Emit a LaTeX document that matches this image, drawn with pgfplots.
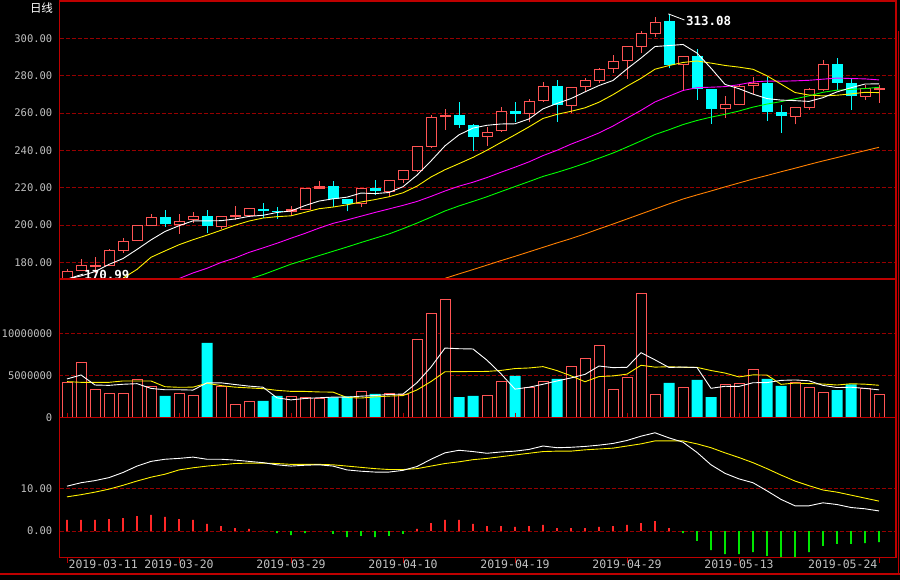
\documentclass[border=0pt]{standalone}
\usepackage{pgfplots}
\usepackage{pgfplotstable}
\usepackage{fontspec}
\pgfplotsset{compat=1.18}
\newfontfamily\monof{DejaVu Sans Mono}
\newfontfamily\cjk{Noto Sans CJK SC}

\definecolor{upred}{RGB}{255,84,84}
\definecolor{dncyan}{RGB}{0,255,255}
\definecolor{framered}{RGB}{190,0,0}
\definecolor{gridred}{RGB}{150,0,0}
\definecolor{lblgray}{RGB}{192,192,192}
\definecolor{maorange}{RGB}{255,128,0}
\definecolor{mamagenta}{RGB}{255,0,255}
\definecolor{magreen}{RGB}{0,255,0}
\definecolor{macdred}{RGB}{255,40,40}
\definecolor{macdgreen}{RGB}{0,230,0}

% daily candles: open high low close
\pgfplotstableread{
i open high low close
0 171.2 176.2 170.99 175.5
1 175.5 181.9 175.3 178.4
2 177.6 182.7 174.1 178.5
3 178.2 187.1 178.0 186.6
4 186.2 193.0 185.2 191.4
5 191.3 200.0 191.3 199.8
6 199.6 205.9 199.6 204.1
7 204.3 208.0 199.1 200.5
8 200.1 205.9 195.3 202.0
9 202.8 207.0 201.2 204.6
10 204.8 208.0 195.7 199.6
11 199.1 204.8 198.0 204.6
12 204.4 210.2 202.7 205.3
13 205.0 209.2 204.6 208.9
14 208.8 212.0 203.8 207.7
15 207.5 209.8 203.4 206.8
16 207.0 210.2 204.8 208.6
17 208.0 220.0 207.8 219.8
18 219.4 223.5 219.2 220.9
19 220.9 223.5 209.5 213.9
20 213.9 214.0 207.3 211.4
21 211.1 219.8 209.5 219.6
22 219.8 224.1 215.9 218.4
23 217.8 224.0 215.1 223.9
24 223.9 229.5 222.3 229.3
25 229.1 242.3 228.5 242.1
26 242.0 258.9 241.2 257.7
27 257.7 262.1 250.9 258.9
28 258.8 265.9 252.1 253.7
29 253.4 254.1 239.6 247.3
30 247.0 252.5 242.5 249.6
31 250.2 263.2 250.0 260.9
32 261.1 265.9 255.3 259.6
33 259.3 267.3 255.0 266.4
34 266.3 276.6 266.0 274.3
35 274.3 277.7 255.3 264.4
36 263.9 274.0 259.8 273.8
37 273.8 278.7 271.2 277.5
38 277.3 284.1 276.2 283.4
39 283.4 291.0 281.6 287.7
40 287.7 296.0 278.4 295.7
41 295.5 303.9 292.3 302.7
42 302.5 311.6 300.7 308.6
43 309.3 313.08 283.9 285.9
44 285.5 290.6 272.0 290.4
45 290.5 294.3 267.1 273.0
46 272.8 273.0 254.3 262.3
47 262.0 269.1 257.5 264.8
48 264.4 275.1 264.0 274.4
49 274.3 279.1 270.2 276.2
50 276.1 279.4 255.9 260.7
51 260.5 264.1 249.4 258.5
52 258.0 263.2 253.9 263.0
53 262.8 273.5 261.8 272.7
54 272.3 288.2 272.0 286.1
55 286.2 289.4 272.3 276.2
56 276.1 278.6 261.8 269.3
57 268.7 275.0 267.0 273.4
58 272.4 275.0 265.5 273.3
}\ohlc

\newcommand\candleup[5]{%
  \addplot[upred, line width=1pt] coordinates {(#1,#4) (#1,#3)};
  \addplot[upred, line width=11pt] coordinates {(#1,#2) (#1,#5)};
  \addplot[black, line width=9pt, shorten <=1pt, shorten >=1pt] coordinates {(#1,#2) (#1,#5)};
}
\newcommand\candleflat[5]{%
  \addplot[upred, line width=1pt] coordinates {(#1,#4) (#1,#3)};
  \addplot[upred, line width=11pt] coordinates {(#1,#2) (#1,#5)};
}
\newcommand\candledn[5]{%
  \addplot[dncyan, line width=1pt] coordinates {(#1,#4) (#1,#3)};
  \addplot[dncyan, line width=11pt] coordinates {(#1,#2) (#1,#5)};
}
\newcommand\candle[5]{%
  \ifdim #5pt<#2pt \def\candlenext{\candledn}\else
    \pgfmathsetmacro\cdiff{#5-#2}%
    \ifdim\cdiff pt>1.6pt \def\candlenext{\candleup}\else\def\candlenext{\candleflat}\fi
  \fi
  \candlenext{#1}{#2}{#3}{#4}{#5}}

\pgfplotsset{
  panel/.style={
    anchor=south west, scale only axis, width=836.5pt,
    xmin=-0.536, xmax=59.214,
    axis line style={draw=framered, line width=1.2pt},
    ymajorgrids,
    grid style={draw=gridred, line width=0.8pt, dash pattern=on 4pt off 2pt},
    ytick style={draw=none},
    yticklabel style={font=\monof\fontsize{10.5}{12}\selectfont, text=lblgray,
      anchor=east, inner sep=0pt, xshift=-7pt},
  },
}

\begin{document}
\begin{tikzpicture}
\path[use as bounding box, fill=black] (0,0) rectangle (900pt,580pt);

% price panel
\begin{axis}[panel, at={(59.5pt,301pt)}, height=278pt,
  ymin=171.06, ymax=319.98, xtick=\empty,
  ytick={180,200,...,300},
  yticklabels={180.00,200.00,220.00,240.00,260.00,280.00,300.00}]
\pgfplotsforeachungrouped \r in {0,...,58}{%
  \pgfplotstablegetelem{\r}{open}\of\ohlc\let\cO\pgfplotsretval
  \pgfplotstablegetelem{\r}{high}\of\ohlc\let\cH\pgfplotsretval
  \pgfplotstablegetelem{\r}{low}\of\ohlc\let\cL\pgfplotsretval
  \pgfplotstablegetelem{\r}{close}\of\ohlc\let\cC\pgfplotsretval
  \edef\docandle{\noexpand\candle{\r}{\cO}{\cH}{\cL}{\cC}}%
  \docandle
}
% MA60
\addplot[maorange, line width=0.9pt] coordinates {
(27,171.4)(28,173.8)(29,176.1)(30,178.5)(31,180.9)(32,183.2)(33,185.6)(34,188.0)
(35,190.4)(36,192.7)(37,195.2)(38,197.9)(39,200.5)(40,203.2)(41,205.9)(42,208.6)
(43,211.3)(44,213.9)(45,216.1)(46,218.2)(47,220.4)(48,222.5)(49,224.6)(50,226.5)
(51,228.5)(52,230.4)(53,232.4)(54,234.3)(55,236.1)(56,238.0)(57,239.8)(58,241.6)};
% MA30
\addplot[magreen, line width=0.9pt] coordinates {
(13,171.0)(14,173.4)(15,176.2)(16,179.0)(17,181.3)(18,183.6)(19,185.9)(20,188.2)
(21,190.6)(22,192.9)(23,195.2)(24,198.0)(25,201.0)(26,204.2)(27,207.5)(28,210.2)
(29,212.63)(30,215.13)(31,217.88)(32,220.58)(33,223.25)(34,226.0)(35,228.17)
(36,230.5)(37,233.05)(38,235.77)(39,238.53)(40,241.73)(41,245.02)(42,248.45)
(43,251.02)(44,253.78)(45,255.97)(46,257.77)(47,259.27)(48,261.05)(49,263.13)
(50,264.77)(51,266.07)(52,267.57)(53,269.18)(54,271.08)(55,272.2)(56,272.6)
(57,273.08)(58,273.73)};
% MA20
\addplot[mamagenta, line width=0.9pt] coordinates {
(8,171.3)(9,174.3)(10,176.8)(11,179.9)(12,182.3)(13,185.3)(14,187.7)(15,190.2)
(16,192.9)(17,195.5)(18,198.3)(19,200.85)(20,202.7)(21,204.7)(22,206.7)(23,208.6)
(24,210.5)(25,212.6)(26,215.3)(27,218.2)(28,220.8)(29,222.9)(30,225.4)(31,228.25)
(32,230.95)(33,233.8)(34,237.15)(35,240.0)(36,243.3)(37,246.2)(38,249.3)(39,253.0)
(40,257.2)(41,261.4)(42,265.9)(43,269.0)(44,272.05)(45,273.55)(46,273.8)(47,274.1)
(48,275.15)(49,276.6)(50,277.1)(51,277.0)(52,277.2)(53,277.5)(54,278.1)(55,278.7)
(56,278.45)(57,278.25)(58,277.7)};
% MA10
\addplot[yellow, line width=0.9pt] coordinates {
(4,171.5)(5,176.2)(6,182.7)(7,186.1)(8,189.4)(9,192.1)(10,194.55)(11,197.15)
(12,199.85)(13,202.1)(14,203.7)(15,204.45)(16,204.9)(17,206.8)(18,208.7)(19,209.6)
(20,210.8)(21,212.3)(22,213.6)(23,215.1)(24,217.25)(25,220.8)(26,225.7)(27,229.6)
(28,232.85)(29,236.2)(30,240.05)(31,244.2)(32,248.3)(33,252.55)(34,257.05)
(35,259.25)(36,260.9)(37,262.75)(38,265.75)(39,269.8)(40,274.35)(41,278.55)
(42,283.45)(43,285.4)(44,287.05)(45,287.85)(46,286.7)(47,285.45)(48,284.55)
(49,283.4)(50,279.9)(51,275.45)(52,270.95)(53,269.6)(54,269.15)(55,269.5)
(56,270.2)(57,271.05)(58,270.9)};
% MA5
\addplot[white, line width=0.9pt] coordinates {
(0,171.0)(1,172.7)(2,175.0)(3,178.9)(4,182.0)(5,186.9)(6,192.0)(7,196.5)(8,199.6)
(9,202.2)(10,202.2)(11,202.3)(12,203.2)(13,204.6)(14,205.2)(15,206.7)(16,207.5)
(17,210.4)(18,212.8)(19,214.0)(20,214.9)(21,217.1)(22,216.8)(23,217.4)(24,220.5)
(25,226.7)(26,234.3)(27,242.4)(28,248.3)(29,251.9)(30,253.4)(31,254.1)(32,254.2)
(33,256.8)(34,262.2)(35,265.1)(36,267.7)(37,271.3)(38,274.7)(39,277.4)(40,283.6)
(41,289.4)(42,295.6)(43,296.1)(44,296.7)(45,292.1)(46,284.0)(47,275.3)(48,273.0)
(49,270.1)(50,267.7)(51,266.9)(52,266.6)(53,266.2)(54,268.2)(55,271.3)(56,273.5)
(57,275.5)(58,275.6)};
% high / low marks
\draw[white, line width=0.8pt] (axis cs:0,170.99) -- (axis cs:1.15,173.7);
\node[anchor=west, inner sep=0pt, text=white, font=\monof\bfseries\fontsize{12.5}{14}\selectfont]
  at (axis cs:1.22,173.3) {170.99};
\draw[white, line width=0.8pt] (axis cs:42.95,313.08) -- (axis cs:44.1,309.8);
\node[anchor=west, inner sep=0pt, text=white, font=\monof\bfseries\fontsize{12.5}{14}\selectfont]
  at (axis cs:44.2,309.4) {313.08};
\end{axis}

% volume panel (millions)
\begin{axis}[panel, at={(59.5pt,162.3pt)}, height=138.7pt,
  ymin=0, ymax=16.43, xtick=\empty,
  ytick={0,5,10}, yticklabels={0,5000000,10000000}]
\addplot[ybar, bar width=10pt, bar shift=0pt, draw=upred, fill=black, line width=1pt] coordinates {
(0,4.19)(1,6.56)(2,3.36)(3,2.85)(4,2.85)(5,4.55)(6,3.72)(8,2.85)(9,2.65)(11,3.72)
(12,1.59)(13,1.90)(16,2.53)(17,2.41)(18,2.29)(21,3.13)(23,2.85)(24,2.69)(25,9.29)
(26,12.37)(27,14.03)(30,2.65)(31,4.31)(33,3.60)(34,4.31)(36,6.09)(37,7.04)(38,8.58)
(39,3.36)(40,4.79)(41,14.74)(42,2.77)(44,3.60)(47,3.96)(48,4.08)(49,5.73)(52,4.19)
(53,3.60)(54,3.01)(57,3.48)(58,2.77)};
\addplot[ybar, bar width=11pt, bar shift=0pt, draw=none, fill=dncyan] coordinates {
(7,2.57)(10,8.85)(14,1.98)(15,2.57)(19,2.41)(20,2.53)(22,2.81)(28,2.45)(29,2.57)
(32,4.94)(35,4.59)(43,4.11)(45,4.47)(46,2.45)(50,4.59)(51,3.76)(55,3.28)(56,3.96)};
\addplot[yellow, line width=0.9pt] coordinates {
(0,4.27)(1,4.19)(2,4.19)(3,4.19)(4,4.35)(5,4.35)(6,4.35)(7,3.67)(8,3.60)(9,3.62)
(10,4.08)(11,3.80)(12,3.62)(13,3.53)(14,3.44)(15,3.24)(16,3.12)(17,3.11)(18,3.05)
(19,3.03)(20,2.39)(21,2.33)(22,2.46)(23,2.56)(24,2.62)(25,3.29)(26,4.28)(27,5.44)
(28,5.46)(29,5.47)(30,5.48)(31,5.60)(32,5.82)(33,5.89)(34,6.05)(35,5.58)(36,4.96)
(37,4.26)(38,4.87)(39,4.95)(40,5.16)(41,6.21)(42,5.99)(43,6.04)(44,5.97)(45,5.96)
(46,5.59)(47,5.29)(48,4.83)(49,5.07)(50,5.05)(51,3.95)(52,4.10)(53,4.04)(54,3.99)
(55,3.87)(56,4.02)(57,3.97)(58,3.84)};
\addplot[white, line width=0.9pt] coordinates {
(0,4.59)(1,5.06)(2,3.87)(3,3.83)(4,3.96)(5,4.03)(6,3.47)(7,3.31)(8,3.31)(9,3.27)
(10,4.13)(11,4.13)(12,3.93)(13,3.74)(14,3.61)(15,2.35)(16,2.11)(17,2.28)(18,2.36)
(19,2.44)(20,2.43)(21,2.55)(22,2.63)(23,2.75)(24,2.80)(25,4.15)(26,6.00)(27,8.25)
(28,8.17)(29,8.14)(30,6.81)(31,5.20)(32,3.38)(33,3.61)(34,3.96)(35,4.35)(36,4.71)
(37,5.13)(38,6.12)(39,5.93)(40,5.97)(41,7.70)(42,6.85)(43,5.95)(44,6.00)(45,5.94)
(46,3.48)(47,3.72)(48,3.71)(49,4.14)(50,4.16)(51,4.42)(52,4.47)(53,4.37)(54,3.83)
(55,3.57)(56,3.61)(57,3.47)(58,3.30)};
\end{axis}

% MACD panel
\begin{axis}[panel, at={(59.5pt,22.3pt)}, height=140pt,
  ymin=-6.25, ymax=26.53,
  ytick={0,10}, yticklabels={0.00,10.00},
  xtick={0,8,16,24,32,40,48,58},
  xticklabels={\rlap{\hspace{1.6pt}2019-03-11},2019-03-20,2019-03-29,2019-04-10,
    2019-04-19,2019-04-29,2019-05-13,\llap{2019-05-24\hspace{1.6pt}}},
  xtick align=outside, major tick length=5pt,
  xtick style={draw=framered, line width=1pt},
  xticklabel style={font=\monof\fontsize{11.5}{13}\selectfont, text=lblgray,
    anchor=north, inner sep=0pt, yshift=3.4pt}]
\addplot[ybar, bar width=1.6pt, bar shift=0pt, draw=none, fill=macdred] coordinates {
(0,2.58)(1,2.58)(2,2.58)(3,2.81)(4,3.04)(5,3.51)(6,3.75)(7,3.28)(8,2.81)(9,2.58)
(10,1.64)(11,1.17)(12,0.70)(13,0.47)(14,0.08)(25,0.47)(26,1.87)(27,2.58)(28,2.58)
(29,1.64)(30,1.17)(31,1.17)(32,0.94)(33,1.17)(34,1.41)(35,0.70)(36,0.70)(37,0.70)
(38,0.94)(39,1.17)(40,1.41)(41,1.87)(42,2.34)(43,0.70)};
\addplot[ybar, bar width=1.6pt, bar shift=0pt, draw=none, fill=macdgreen] coordinates {
(15,-0.47)(16,-0.94)(17,-0.47)(19,-0.70)(20,-1.41)(21,-1.17)(22,-1.41)(23,-1.17)
(24,-0.70)(44,-0.47)(45,-2.34)(46,-4.45)(47,-5.39)(48,-5.39)(49,-4.92)(50,-5.85)
(51,-6.09)(52,-6.09)(53,-4.92)(54,-3.51)(55,-3.04)(56,-3.04)(57,-2.81)(58,-2.58)};
\addplot[yellow, line width=0.9pt] coordinates {
(0,8.0)(1,8.5)(2,9.1)(3,9.8)(4,10.7)(5,11.7)(6,12.6)(7,13.3)(8,14.3)(9,14.8)
(10,15.2)(11,15.5)(12,15.8)(13,15.9)(14,15.9)(15,15.8)(16,15.6)(17,15.6)(18,15.6)
(19,15.5)(20,15.2)(21,14.9)(22,14.6)(23,14.4)(24,14.4)(25,14.6)(26,15.2)(27,15.8)
(28,16.2)(29,16.7)(30,17.0)(31,17.4)(32,17.8)(33,18.2)(34,18.6)(35,18.7)(36,18.7)
(37,19.0)(38,19.2)(39,19.4)(40,19.9)(41,20.4)(42,21.1)(43,21.1)(44,21.1)(45,20.4)
(46,19.5)(47,18.3)(48,17.2)(49,16.0)(50,14.6)(51,13.1)(52,11.7)(53,10.6)(54,9.6)
(55,9.1)(56,8.4)(57,7.7)(58,7.0)};
\addplot[white, line width=0.9pt] coordinates {
(0,10.5)(1,11.3)(2,11.8)(3,12.5)(4,13.7)(5,15.2)(6,16.3)(7,16.8)(8,17.0)(9,17.3)
(10,16.8)(11,16.8)(12,16.6)(13,16.3)(14,16.0)(15,15.5)(16,15.2)(17,15.4)(18,15.5)
(19,15.2)(20,14.3)(21,14.0)(22,13.8)(23,13.8)(24,14.2)(25,15.1)(26,16.8)(27,18.3)
(28,18.9)(29,18.6)(30,18.2)(31,18.5)(32,18.7)(33,19.1)(34,19.9)(35,19.5)(36,19.6)
(37,19.8)(38,20.1)(39,20.5)(40,21.2)(41,22.2)(42,23.0)(43,21.8)(44,20.8)(45,18.4)
(46,15.5)(47,13.5)(48,12.2)(49,11.3)(50,9.4)(51,7.4)(52,5.9)(53,5.9)(54,6.6)
(55,6.2)(56,5.5)(57,5.2)(58,4.7)};
\end{axis}

% outer frame pieces
\draw[framered, line width=1.2pt] (0,6pt) -- (900pt,6pt);
\draw[framered, line width=1.2pt] (898.5pt,6pt) -- (898.5pt,549pt);
\node[text=white, inner sep=0pt, font=\cjk\fontsize{11.5}{13}\selectfont] at (41.5pt,571.5pt) {日线};
\end{tikzpicture}
\end{document}
